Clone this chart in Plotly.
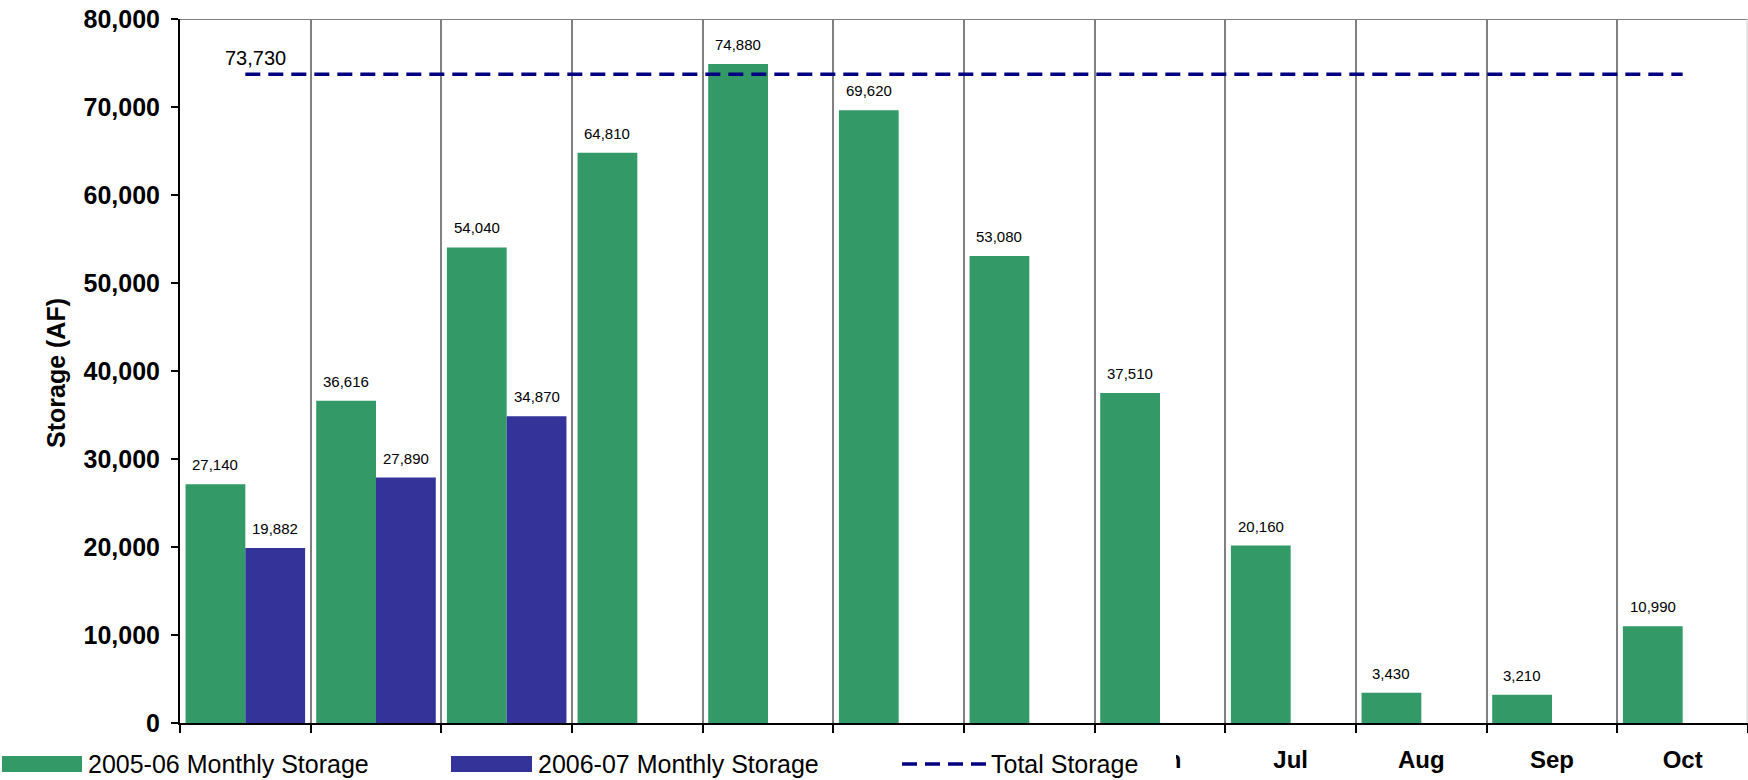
import plotly.graph_objects as go

categories = ["Nov", "Dec", "Jan", "Feb", "Mar", "Apr", "May", "Jun", "Jul", "Aug", "Sep", "Oct"]
storage_2005_06 = [27140, 36616, 54040, 64810, 74880, 69620, 53080, 37510, 20160, 3430, 3210, 10990]
storage_2006_07 = [19882, 27890, 34870, None, None, None, None, None, None, None, None, None]
total_storage = 73730
y_ticks = [0, 10000, 20000, 30000, 40000, 50000, 60000, 70000, 80000]

GREEN = "#339966"
BLUE = "#333399"
NAVY = "#000080"
FONT = "Liberation Sans, Arial, sans-serif"

W, H = 1748, 780
ML, MR, MT, MB = 180, 0, 19, 57
PW, PH = W - ML - MR, H - MT - MB


def px(x):
    return (x - ML) / PW


def py(y):
    return (H - MB - y) / PH


BARGAP = 0.085
half = (1 - BARGAP) / 4

fig = go.Figure()
fig.add_trace(go.Bar(x=categories, y=storage_2005_06, name="2005-06 Monthly Storage",
                     marker=dict(color=GREEN, line=dict(width=0)), showlegend=False))
fig.add_trace(go.Bar(x=categories, y=storage_2006_07, name="2006-07 Monthly Storage",
                     marker=dict(color=BLUE, line=dict(width=0)), showlegend=False))
fig.add_trace(go.Scatter(x=categories, y=[total_storage] * len(categories), mode="lines",
                         name="Total Storage", line=dict(color=NAVY, width=3.5, dash="15px,8px"),
                         showlegend=False))

annotations = []
for i, v in enumerate(storage_2005_06):
    if v is not None:
        annotations.append(dict(x=i - half, y=v, xref="x", yref="y", text=f"{v:,}",
                                showarrow=False, yanchor="bottom", yshift=9,
                                font=dict(family=FONT, size=15, color="#000")))
for i, v in enumerate(storage_2006_07):
    if v is not None:
        annotations.append(dict(x=i + half, y=v, xref="x", yref="y", text=f"{v:,}",
                                showarrow=False, yanchor="bottom", yshift=9,
                                font=dict(family=FONT, size=15, color="#000")))
annotations.append(dict(x=0, y=total_storage, xref="x", yref="y", text=f"{total_storage:,}",
                        showarrow=False, xanchor="left", xshift=-22, yanchor="bottom", yshift=3,
                        font=dict(family=FONT, size=20, color="#000")))
# y-axis title
annotations.append(dict(x=px(56), y=py(373), xref="paper", yref="paper", text="Storage (AF)",
                        showarrow=False, textangle=-90, xanchor="center", yanchor="middle",
                        font=dict(family=FONT, size=25, color="#000", weight="bold")))

shapes = []
# top border and right border
shapes.append(dict(type="line", xref="paper", yref="y", x0=0, x1=1, y0=80000, y1=80000,
                   line=dict(color="#808080", width=2)))
shapes.append(dict(type="line", xref="paper", yref="paper", x0=px(1747), x1=px(1747), y0=0, y1=1,
                   line=dict(color="#d0d0d0", width=1)))
# legend background (covers the first tick labels, as in the reference)
shapes.append(dict(type="rect", xref="paper", yref="paper", x0=px(0), x1=px(1176), y0=py(780), y1=py(742),
                   fillcolor="white", line=dict(width=0), layer="above"))
# legend symbols
shapes.append(dict(type="rect", xref="paper", yref="paper", x0=px(2), x1=px(82), y0=py(772), y1=py(756),
                   fillcolor=GREEN, line=dict(width=0), layer="above"))
shapes.append(dict(type="rect", xref="paper", yref="paper", x0=px(451), x1=px(532), y0=py(772), y1=py(756),
                   fillcolor=BLUE, line=dict(width=0), layer="above"))
shapes.append(dict(type="line", xref="paper", yref="paper", x0=px(902), x1=px(987), y0=py(764), y1=py(764),
                   line=dict(color=NAVY, width=3.5, dash="15px,8px"), layer="above"))

legend_texts = [("2005-06 Monthly Storage", 86), ("2006-07 Monthly Storage", 536), ("Total Storage", 989)]
for t, x0 in legend_texts:
    annotations.append(dict(x=px(x0), y=py(764), xref="paper", yref="paper", text=t, showarrow=False,
                            xanchor="left", yanchor="middle",
                            font=dict(family=FONT, size=25, color="#000")))

fig.update_layout(
    width=W, height=H,
    margin=dict(l=ML, r=MR, t=MT, b=MB, pad=0),
    paper_bgcolor="white", plot_bgcolor="white",
    barmode="group", bargap=BARGAP, bargroupgap=0,
    showlegend=False,
    annotations=annotations,
    shapes=shapes,
    xaxis=dict(type="category", tickson="boundaries", ticks="outside", ticklen=8, tickwidth=1.5,
               tickcolor="#000", showgrid=True, gridcolor="#808080", gridwidth=1.5,
               showline=True, linecolor="#000", linewidth=1.5, zeroline=False,
               tickfont=dict(family=FONT, size=24, color="#000", weight="bold"), ticklabelstandoff=14,
               range=[-0.5, 11.5], automargin=False),
    yaxis=dict(range=[0, 80000], tickvals=y_ticks, tickformat=",", ticks="outside", ticklen=7,
               tickwidth=1.5, tickcolor="#000", showgrid=False, zeroline=False,
               showline=True, linecolor="#000", linewidth=2,
               tickfont=dict(family=FONT, size=25, color="#000", weight="bold"), ticklabelstandoff=6,
               automargin=False),
    font=dict(family=FONT),
)

fig.write_html("out.html", config={"displayModeBar": False},
               post_script="document.body.style.margin='0';document.body.style.overflow='hidden';")
